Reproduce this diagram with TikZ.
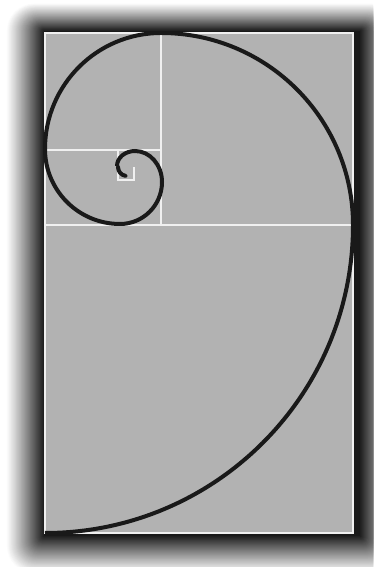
\documentclass[tikz,border=0pt]{standalone}
\begin{document}
\begin{tikzpicture}[x=1pt,y=1pt,
  panel/.style={fill=black!30},
  gridline/.style={draw=white!94!black,line width=1.6pt},
  spiral/.style={draw=black!90,line width=4pt}]
\useasboundingbox (0,0) rectangle (373,567);
\clip (0,0) rectangle (373,567);
\fill[white] (0,0) rectangle (373,567);
% soft shadow: opaque layers, ramp from light outside to dark inside
\foreach \k in {40,...,0}{
  \pgfmathsetmacro\p{90*(1-\k/40)^1.1}
  \pgfmathsetmacro\rc{0.7*\k}
  \fill[black!\p,rounded corners=\rc pt] (44-0.95*\k,31-0.95*\k) rectangle (360+\k,536+0.7*\k);
}
% panel
\path[panel] (45,34) rectangle (353,534);
\coordinate (a) at (45,342);
\coordinate (b) at (353,342);
\coordinate (c) at (161,342);
\coordinate (d) at (161,534);
\coordinate (e) at (45,417);
\coordinate (f) at (161,417);
\coordinate (g) at (118,417);
\coordinate (h) at (118,387);
\coordinate (i) at (134,387);
\coordinate (j) at (134,400);
\draw[gridline] (a) -- (b);
\draw[gridline] (c) -- (d);
\draw[gridline] (e) -- (f);
\draw[gridline] (g) -- (h) -- (i) -- (j);
\draw[gridline] (45,34) rectangle (353,534);
% spiral
\coordinate (s0) at (45,34);
\draw[spiral] (s0) arc[start angle=270,end angle=360,radius=308]
  arc[start angle=0,end angle=90,radius=192]
  arc[start angle=90,end angle=180,radius=116]
  arc[start angle=180,end angle=270,radius=75]
  arc[start angle=270,end angle=360,radius=42]
  arc[start angle=0,end angle=90,x radius=27,y radius=31]
  arc[start angle=90,end angle=180,x radius=18,y radius=15];
\draw[spiral,line cap=round] (118,400) arc[start angle=180,end angle=260,radius=9];
\end{tikzpicture}
\end{document}
